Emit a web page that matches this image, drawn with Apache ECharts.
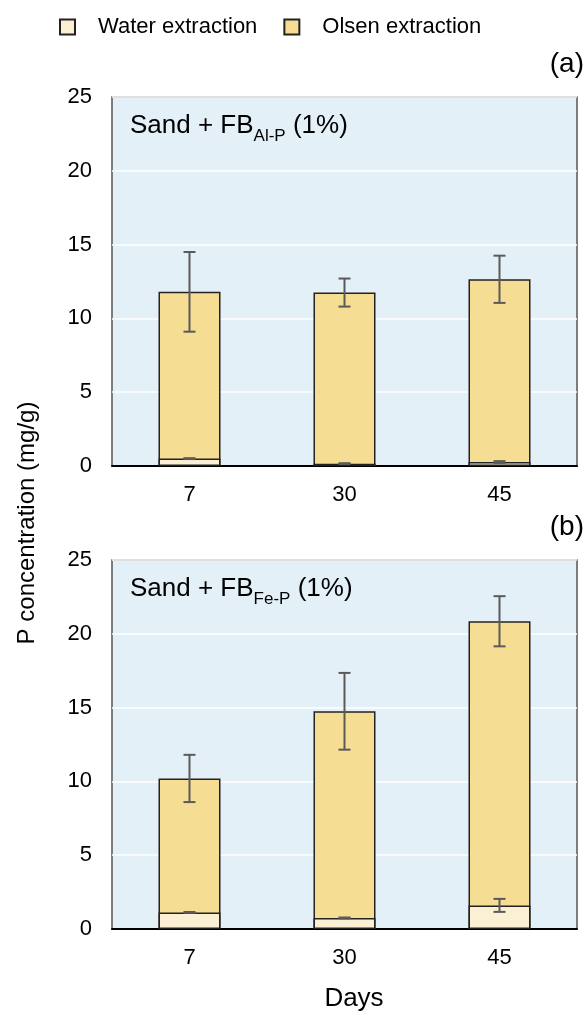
<!DOCTYPE html>
<html><head><meta charset="utf-8">
<script src="https://cdn.jsdelivr.net/npm/echarts@6/dist/echarts.min.js"></script>
<style>html,body{margin:0;padding:0;background:#fff}#c{width:584px;height:1015px}</style>
</head><body><div id="c"></div>
<script>
const days = ['7', '30', '45'];
const yTicks = [0, 5, 10, 15, 20, 25];
// Panel (a) Sand + FB Al-P (1%)
const olsenA = [11.8, 11.75, 12.65];
const olsenSdA = [2.7, 0.95, 1.6];
const waterA = [0.5, 0.16, 0.27];
const waterSdA = [0.03, 0.03, 0.06];
// Panel (b) Sand + FB Fe-P (1%)
const olsenB = [10.2, 14.75, 20.85];
const olsenSdB = [1.6, 2.6, 1.7];
const waterB = [1.12, 0.75, 1.6];
const waterSdB = [0.03, 0.03, 0.44];

const FONT = 'Arial, "Liberation Sans", sans-serif';
const cOlsen = '#F5DE93', cWater = '#FBF0D4', cBg = '#E4F0F7';

function errData(v, sd) { return v.map((x, i) => [i, x - sd[i], x + sd[i]]); }
function errRender(params, api) {
  const i = api.value(0);
  const lo = api.coord([i, api.value(1)]);
  const hi = api.coord([i, api.value(2)]);
  const w = 6;
  const st = { stroke: '#5a5a5a', lineWidth: 2 };
  return { type: 'group', children: [
    { type: 'line', shape: { x1: hi[0], y1: hi[1], x2: lo[0], y2: lo[1] }, style: st },
    { type: 'line', shape: { x1: hi[0] - w, y1: hi[1], x2: hi[0] + w, y2: hi[1] }, style: st },
    { type: 'line', shape: { x1: lo[0] - w, y1: lo[1], x2: lo[0] + w, y2: lo[1] }, style: st }
  ]};
}
const grids = [
  { left: 112, top: 97, width: 465, height: 369, show: true, backgroundColor: cBg, borderColor: '#555', borderWidth: 1.5 },
  { left: 112, top: 560, width: 465, height: 369, show: true, backgroundColor: cBg, borderColor: '#555', borderWidth: 1.5 }
];
function xAx(g) {
  return { type: 'category', data: days, gridIndex: g, axisTick: { show: false },
    axisLine: { lineStyle: { color: '#000', width: 2 } },
    axisLabel: { color: '#000', fontSize: 22, fontFamily: FONT, margin: 18 } };
}
function yAx(g) {
  return { type: 'value', gridIndex: g, min: yTicks[0], max: yTicks[yTicks.length - 1], interval: 5,
    axisLine: { show: false }, axisTick: { show: false },
    splitLine: { lineStyle: { color: '#fff', width: 1.5 } },
    axisLabel: { color: '#000', fontSize: 22, fontFamily: FONT, margin: 20 } };
}
function bars(g, olsen, osd, water, wsd) {
  return [
    { name: 'Olsen extraction', type: 'bar', xAxisIndex: g, yAxisIndex: g, data: olsen, barWidth: '40%', barGap: '-100%',
      itemStyle: { color: cOlsen, borderColor: '#222', borderWidth: 1.5 }, animation: false, z: 2 },
    { name: 'Water extraction', type: 'bar', xAxisIndex: g, yAxisIndex: g, data: water, barWidth: '40%', barGap: '-100%',
      itemStyle: { color: cWater, borderColor: '#222', borderWidth: 1.5 }, animation: false, z: 3 },
    { type: 'custom', xAxisIndex: g, yAxisIndex: g, data: errData(olsen, osd), renderItem: errRender, z: 5, animation: false, silent: true },
    { type: 'custom', xAxisIndex: g, yAxisIndex: g, data: errData(water, wsd), renderItem: errRender, z: 5, animation: false, silent: true }
  ];
}
function title(sub, y) {
  return { type: 'text', x: 130, y: y, style: { text: '{m|Sand + FB}{s|' + sub + '}{m| (1%)}', rich: {
    m: { fontSize: 26, fontFamily: FONT, fill: '#000', verticalAlign: 'bottom' },
    s: { fontSize: 17, fontFamily: FONT, fill: '#000', verticalAlign: 'bottom', padding: [0, 0, -6, 0] } } } };
}
const chart = echarts.init(document.getElementById('c'), null, { renderer: 'canvas' });
chart.setOption({
  animation: false,
  textStyle: { fontFamily: FONT },
  legend: { top: 11, left: 54, itemWidth: 15, itemHeight: 15, itemGap: 26, icon: 'rect',
    data: ['Water extraction', 'Olsen extraction'],
    textStyle: { color: '#000', fontSize: 22, fontFamily: FONT, padding: [0, 0, 0, 18] } },
  grid: grids,
  xAxis: [xAx(0), xAx(1)],
  yAxis: [yAx(0), yAx(1)],
  series: [].concat(bars(0, olsenA, olsenSdA, waterA, waterSdA), bars(1, olsenB, olsenSdB, waterB, waterSdB)),
  graphic: [
    { type: 'text', x: 584, y: 64, style: { text: '(a)', fontSize: 28, fontFamily: FONT, fill: '#000', align: 'right', verticalAlign: 'middle' } },
    { type: 'text', x: 584, y: 527, style: { text: '(b)', fontSize: 28, fontFamily: FONT, fill: '#000', align: 'right', verticalAlign: 'middle' } },
    title('Al-P', 113),
    title('Fe-P', 576),
    { type: 'text', x: 27, y: 523, rotation: Math.PI / 2, style: { text: 'P concentration (mg/g)', fontSize: 24, fontFamily: FONT, fill: '#000', align: 'center', verticalAlign: 'middle' } },
    { type: 'text', x: 354, y: 999, style: { text: 'Days', fontSize: 26, fontFamily: FONT, fill: '#000', align: 'center', verticalAlign: 'middle' } }
  ]
});
</script></body></html>
